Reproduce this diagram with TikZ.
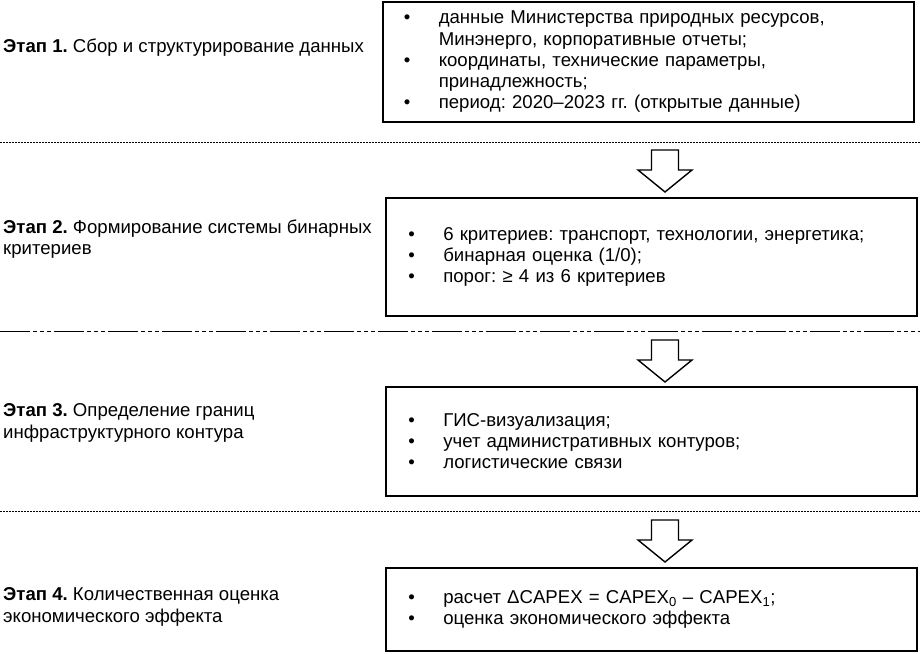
\documentclass[tikz,border=0pt]{standalone}
\usepackage{fontspec}
\setmainfont{Liberation Sans}
\frenchspacing
\newcommand{\bul}{\makebox[35pt][l]{\textbullet}}
\newcommand{\ind}{\hspace*{35pt}}
\begin{document}
\begin{tikzpicture}[x=1pt,y=1pt,
  txt/.style={font=\fontsize{18.6}{21.2}\selectfont},
  ltxt/.style={font=\fontsize{18.6}{21.5}\selectfont},
  box/.style={draw, line width=1.6pt, anchor=north west, align=left, txt,
    inner xsep=21pt, inner ysep=0pt, text width=489pt, minimum width=531pt},
  lab/.style={anchor=west, align=left, inner sep=0pt, ltxt},
  sepline/.style={line width=0.9pt},
  blockarrow/.style={draw, line width=1.4pt, fill=white, line join=miter}]
\useasboundingbox (0,0) rectangle (920,-653);
% boxes
\node[box, minimum height=120pt] (b1) at (382,-1) {%
\bul данные Министерства природных ресурсов,\\
\ind Минэнерго, корпоративные отчеты;\\
\bul координаты, технические параметры,\\
\ind принадлежность;\\
\bul период: 2020–2023 гг. (открытые данные)};
\node[box, minimum height=118pt, text width=486pt] (b2) at (385,-197) {%
\bul 6 критериев: транспорт, технологии, энергетика;\\
\bul бинарная оценка (1/0);\\
\bul порог: ≥ 4 из 6 критериев};
\node[box, minimum height=109pt, text width=486pt] (b3) at (385,-386) {%
\bul ГИС-визуализация;\\
\bul учет административных контуров;\\
\bul логистические связи};
\node[box, minimum height=83pt, text width=486pt] (b4) at (385,-567) {%
\bul расчет ΔCAPEX = CAPEX\textsubscript{0} – CAPEX\textsubscript{1};\\
\bul оценка экономического эффекта};
% stage labels
\node[lab] (s1) at (3,-48) {\textbf{Этап 1.} Сбор и структурирование данных};
\node[lab] (s2) at (3,-239) {\textbf{Этап 2.} Формирование системы бинарных\\критериев};
\node[lab] (s3) at (3,-423) {\textbf{Этап 3.} Определение границ\\инфраструктурного контура};
\node[lab] (s4) at (3,-607) {\textbf{Этап 4.} Количественная оценка\\экономического эффекта};
% separators
\coordinate (l1a) at (0,-142); \coordinate (l1b) at (920,-142);
\coordinate (l2a) at (0,-331); \coordinate (l2b) at (920,-331);
\coordinate (l3a) at (0,-511); \coordinate (l3b) at (920,-511);
\draw[sepline, dash pattern=on 2pt off 1pt] (l1a) -- (l1b);
\draw[sepline, dash pattern=on 30pt off 3pt on 4pt off 3pt on 4pt off 3pt on 4pt off 3pt] (l2a) -- (l2b);
\draw[sepline, dash pattern=on 2pt off 1pt] (l3a) -- (l3b);
% block arrows
\foreach \n/\t in {a1/150, a2/340, a3/520} {
  \coordinate (\n) at (665,-\t);
  \draw[blockarrow] (\n) ++(-13.5,0) -- ++(0,-20) -- ++(-13.5,0) -- ++(27,-22)
     -- ++(27,22) -- ++(-13.5,0) -- ++(0,20) -- cycle;
}
\end{tikzpicture}
\end{document}
